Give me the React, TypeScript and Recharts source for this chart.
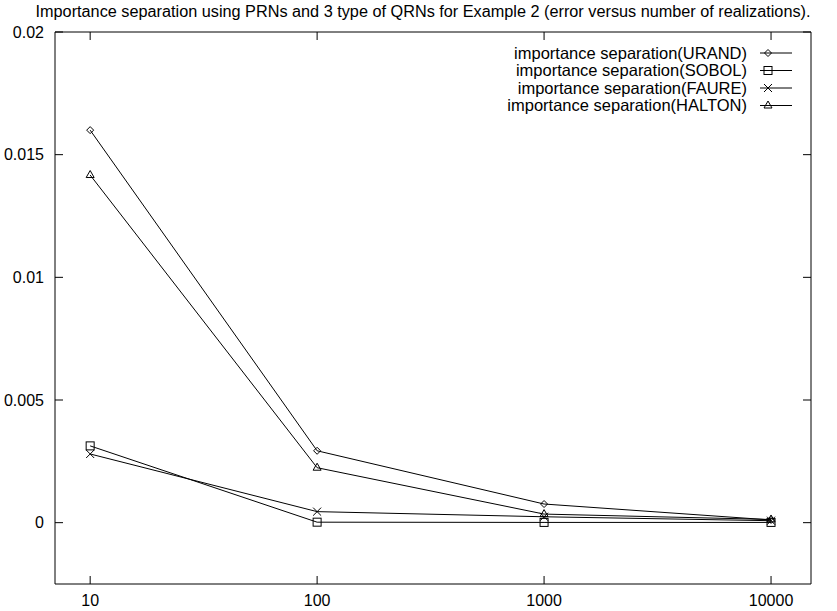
import React from 'react'
import {
  LineChart,
  Line,
  XAxis,
  YAxis,
  Legend
} from 'recharts'

// number of realizations (log axis)
const realizations = [10, 100, 1000, 10000]

// error per generator
const urand = [0.016, 0.00293, 0.00076, 0.00011]
const sobol = [0.00313, 0.00002, 0.00001, 0.00001]
const faure = [0.0028, 0.00045, 0.00024, 0.00008]
const halton = [0.01417, 0.00224, 0.00035, 0.00013]

const xTicks = [10, 100, 1000, 10000]
const yTicks = [0, 0.005, 0.01, 0.015, 0.02]

const title =
  'Importance separation using PRNs and 3 type of QRNs for Example 2 (error versus number of realizations).'

const data = realizations.map((n, i) => ({
  n,
  urand: urand[i],
  sobol: sobol[i],
  faure: faure[i],
  halton: halton[i]
}))

const FONT = '"Liberation Sans", Arial, Helvetica, sans-serif'
const INK = '#000'

type Shape = 'diamond' | 'square' | 'cross' | 'triangle'

const Marker = ({ shape, cx, cy }: { shape: Shape; cx: number; cy: number }) => {
  const common = { fill: 'none', stroke: INK, strokeWidth: 1 }
  if (shape === 'diamond') {
    return <path d={`M${cx},${cy - 3.5}L${cx + 3.5},${cy}L${cx},${cy + 3.5}L${cx - 3.5},${cy}Z`} {...common} />
  }
  if (shape === 'square') {
    return <rect x={cx - 4} y={cy - 4} width={8} height={8} {...common} />
  }
  if (shape === 'cross') {
    return <path d={`M${cx - 4},${cy - 4}L${cx + 4},${cy + 4}M${cx - 4},${cy + 4}L${cx + 4},${cy - 4}`} {...common} />
  }
  return <path d={`M${cx},${cy - 4.5}L${cx + 4},${cy + 2.5}L${cx - 4},${cy + 2.5}Z`} {...common} />
}

const makeDot = (shape: Shape) => (props: any) => {
  const { cx, cy, index } = props
  if (cx == null || cy == null) return <g key={`${shape}-${index}`} />
  return (
    <g key={`${shape}-${index}`}>
      <Marker shape={shape} cx={cx} cy={cy} />
    </g>
  )
}

const series: { key: string; label: string; shape: Shape }[] = [
  { key: 'urand', label: 'importance separation(URAND)', shape: 'diamond' },
  { key: 'sobol', label: 'importance separation(SOBOL)', shape: 'square' },
  { key: 'faure', label: 'importance separation(FAURE)', shape: 'cross' },
  { key: 'halton', label: 'importance separation(HALTON)', shape: 'triangle' }
]

const LegendBox = () => (
  <svg width={837} height={120} style={{ display: 'block' }}>
    {series.map((s, i) => {
      const y = 53 + i * 17.5
      return (
        <g key={s.key}>
          <text x={747} y={y + 5.5} textAnchor="end" fontSize={16.5} fontFamily={FONT} fill={INK}>
            {s.label}
          </text>
          <line x1={760} x2={792} y1={y} y2={y} stroke={INK} strokeWidth={1} />
          <Marker shape={s.shape} cx={768} cy={y} />
        </g>
      )
    })}
  </svg>
)

const noTick = () => <g />

export default function App() {
  return (
    <div style={{ position: 'absolute', left: 0, top: 0, width: 837, height: 611, background: '#fff' }}>
      <svg width={837} height={30} style={{ position: 'absolute', left: 0, top: 0 }}>
        <text
          x={423}
          y={17}
          textAnchor="middle"
          fontSize={16}
          fontFamily={FONT}
          fill={INK}
          textLength={775}
          lengthAdjust="spacingAndGlyphs"
        >
          {title}
        </text>
      </svg>
      <LineChart
        width={837}
        height={611}
        data={data}
        margin={{ top: 31, right: 25, bottom: 0, left: 0 }}
      >
        <XAxis
          dataKey="n"
          type="number"
          scale="log"
          domain={[7, 15000]}
          allowDataOverflow
          ticks={xTicks}
          interval={0}
          height={27}
          tickSize={-8}
          tickMargin={19}
          stroke={INK}
          tick={{ fill: INK, fontSize: 16, fontFamily: FONT }}
        />
        <XAxis
          xAxisId="top"
          orientation="top"
          dataKey="n"
          type="number"
          scale="log"
          domain={[7, 15000]}
          allowDataOverflow
          ticks={xTicks}
          interval={0}
          height={1}
          tickSize={-8}
          stroke={INK}
          tick={noTick}
        />
        <YAxis
          type="number"
          domain={[-0.0025, 0.02]}
          allowDataOverflow
          ticks={yTicks}
          interval={0}
          width={55}
          tickSize={-8}
          tickMargin={19}
          stroke={INK}
          tick={{ fill: INK, fontSize: 16, fontFamily: FONT }}
        />
        <YAxis
          yAxisId="right"
          orientation="right"
          type="number"
          domain={[-0.0025, 0.02]}
          allowDataOverflow
          ticks={yTicks}
          interval={0}
          width={1}
          tickSize={-8}
          stroke={INK}
          tick={noTick}
        />
        <Legend
          layout="horizontal"
          verticalAlign="middle"
          align="center"
          content={<LegendBox />}
          wrapperStyle={{ position: 'absolute', left: 0, top: 0, width: 837, height: 120 }}
        />
        {series.map(s => (
          <Line
            key={s.key}
            dataKey={s.key}
            name={s.label}
            type="linear"
            stroke={INK}
            strokeWidth={1}
            dot={makeDot(s.shape)}
            activeDot={false}
            isAnimationActive={false}
          />
        ))}
      </LineChart>
    </div>
  )
}
